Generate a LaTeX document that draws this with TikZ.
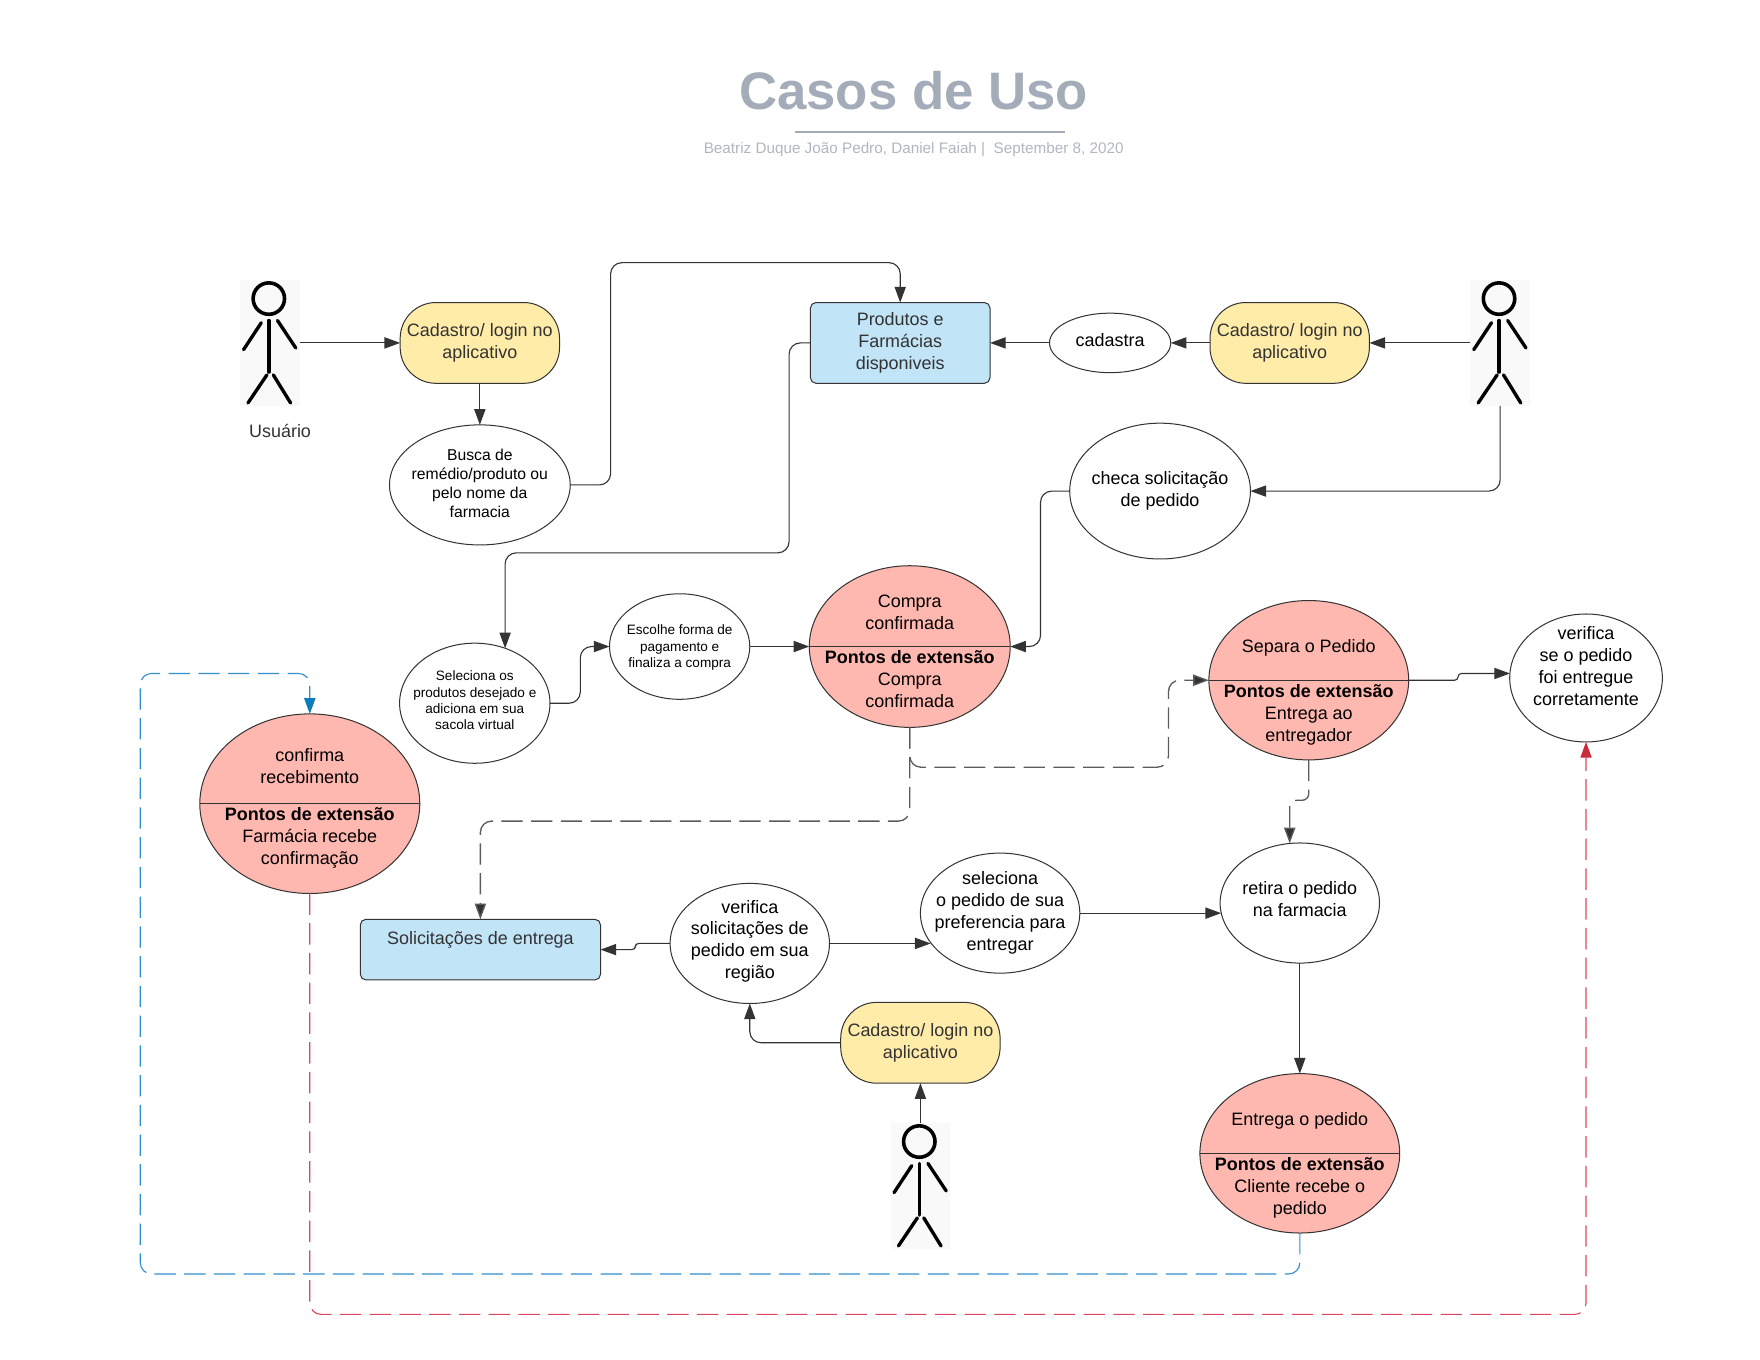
\documentclass[tikz,border=0pt]{standalone}
\usepackage{fontspec}
\setmainfont{Liberation Sans}
\usetikzlibrary{arrows.meta,shapes.geometric}
\definecolor{linegray}{HTML}{333333}
\definecolor{dashgray}{HTML}{5C5C5C}
\definecolor{titlegray}{HTML}{A3ACB8}
\definecolor{subgray}{HTML}{B0B6C0}
\definecolor{caseyellow}{HTML}{FFECA9}
\definecolor{caseblue}{HTML}{C1E4F7}
\definecolor{casepink}{HTML}{FFB8B0}
\definecolor{actorbg}{HTML}{F9F9F9}
\definecolor{blueline}{HTML}{2F8FD0}
\definecolor{bluehead}{HTML}{0C7CBA}
\definecolor{redline}{HTML}{D9485C}
\definecolor{redhead}{HTML}{C92D39}
\tikzset{
  casesize/.style 2 args={minimum width=#1*0.5pt, minimum height=#2*0.5pt},
  usecase/.style={ellipse, draw=linegray, line width=0.45pt, fill=white, inner sep=0pt, outer sep=0pt},
  extcase/.style={usecase, fill=casepink},
  login/.style={rectangle, draw=linegray, line width=0.45pt, fill=caseyellow, rounded corners=16pt, inner sep=0pt, outer sep=0pt,
    casesize={142}{72}, align=center, text=linegray, font=\fontsize{8}{9.75}\selectfont},
  database/.style={rectangle, draw=linegray, line width=0.45pt, fill=caseblue, rounded corners=2.5pt, inner sep=0pt, outer sep=0pt,
    align=center, text=linegray, font=\fontsize{8}{9.75}\selectfont},
  actorbox/.style={rectangle, fill=actorbg, inner sep=0pt, outer sep=0pt, casesize={53}{112}},
  txt/.style={align=center, inner sep=0pt, font=\fontsize{8}{9.75}\selectfont},
  txtmid/.style={txt, font=\fontsize{7}{8.5}\selectfont},
  txtsmall/.style={txt, font=\fontsize{6.05}{7.25}\selectfont},
  txtbold/.style={txt, font=\fontsize{8}{9.75}\selectfont\bfseries},
  flow/.style={draw=linegray, line width=0.5pt, rounded corners=5pt, -{Triangle[length=7pt,width=5pt,fill=linegray]}},
  flowdash/.style={flow, draw=dashgray, line width=0.6pt, dash pattern=on 9.5pt off 3.75pt},
  flowblue/.style={flow, draw=blueline, dash pattern=on 9.5pt off 3.75pt, -{Triangle[length=7pt,width=5pt,fill=bluehead,color=bluehead]}},
  flowred/.style={flow, draw=redline, dash pattern=on 9.5pt off 3.75pt, -{Triangle[length=7pt,width=5pt,fill=redhead,color=redhead]}},
  stickman/.pic={
    \draw[line width=1.6pt] (-1,-39.5) circle (14);
    \draw[line width=1.5pt, line cap=round] (-1,-20) -- (-1,26);
    \draw[line width=1.5pt, line cap=round] (-7.7,-18) -- (-23.5,6);
    \draw[line width=1.5pt, line cap=round] (6.7,-20) -- (23,4.5);
    \draw[line width=1.5pt, line cap=round] (-2.7,28.5) -- (-19.6,53.5);
    \draw[line width=1.5pt, line cap=round] (3,28.5) -- (18.4,53.5);
  }
}
\begin{document}
\begin{tikzpicture}[x=0.5pt,y=-0.5pt]
\useasboundingbox (0,0) rectangle (1568,1211.6);
% title
\node[font=\fontsize{23.5}{28}\selectfont\bfseries, text=titlegray, inner sep=0pt] (title) at (814,81) {Casos de Uso};
\draw[titlegray, line width=0.9pt] (708,118) -- (949,118);
\node[font=\fontsize{6.8}{8}\selectfont, text=subgray, inner sep=0pt] (subtitle) at (814,133) {Beatriz Duque João Pedro, Daniel Faiah |\ \ September 8, 2020};
% actors
\node[actorbox] (usuario) at (240.5,305.5) {};
\pic at (usuario) {stickman};
\node[txt, text=linegray] (usuariotxt) at (249.5,384) {Usuário};
\node[actorbox] (farmacia) at (1336.5,305.5) {};
\pic at (farmacia) {stickman};
\node[actorbox] (entregador) at (820,1056.5) {};
\pic at (entregador) {stickman};
% login boxes
\node[login] (loginusuario) at (427.5,305.5) {Cadastro/ login no\\aplicativo};
\node[login] (loginfarmacia) at (1149,305.5) {Cadastro/ login no\\aplicativo};
\node[login] (loginentregador) at (820,929) {Cadastro/ login no\\aplicativo};
% blue boxes
\node[database, casesize={160}{72}] (produtos) at (802,305.5) {Produtos e\\Farmácias\\disponiveis};
\node[database, casesize={214}{54}] (solicitacoes) at (428,846) {Solicitações de entrega\\[1pt]\mbox{}};
% plain use cases
\node[usecase, casesize={161}{107}] (busca) at (427.5,432) {};
\node[txtmid] (buscatxt) at (427.5,430.5) {Busca de\\remédio/produto ou\\pelo nome da\\farmacia};
\node[usecase, casesize={108}{53}] (cadastra) at (989,305.5) {};
\node[txt] (cadastratxt) at (989,303) {cadastra};
\node[usecase, casesize={161}{121}] (checa) at (1033.5,437.5) {};
\node[txt] (checatxt) at (1033.5,437.5) {checa solicitação\\de pedido};
\node[usecase, casesize={134}{107}] (seleciona) at (423,626.5) {};
\node[txtsmall] (selecionatxt) at (423,624) {Seleciona os\\produtos desejado e\\adiciona em sua\\sacola virtual};
\node[usecase, casesize={125}{94}] (escolhe) at (605.5,576) {};
\node[txtsmall] (escolhetxt) at (605.5,577) {Escolhe forma de\\pagamento e\\finaliza a compra};
\node[usecase, casesize={136}{114}] (verifica) at (1413,604) {};
\node[txt] (verificatxt) at (1413,593.5) {verifica\\se o pedido\\foi entregue\\corretamente};
\node[usecase, casesize={142}{107}] (retira) at (1158,804.5) {};
\node[txt] (retiratxt) at (1158,801) {retira o pedido\\na farmacia};
\node[usecase, casesize={142}{107}] (preferencia) at (891,813.5) {};
\node[txt] (preferenciatxt) at (891,813) {seleciona\\o pedido de sua\\preferencia para\\entregar};
\node[usecase, casesize={142}{107}] (regiao) at (668,840.5) {};
\node[txt] (regiaotxt) at (668,838.5) {verifica\\solicitações de\\pedido em sua\\região};
% use cases with extension points
\node[extcase, casesize={179}{144}] (compra) at (810.5,576) {};
\draw[linegray, line width=0.45pt] (compra.west) -- (compra.east);
\node[txt] (compratxt) at (810.5,545.5) {Compra\\confirmada};
\node[txtbold] (compraext) at (810.5,585) {Pontos de extensão};
\node[txt] (compraexttxt) at (810.5,615) {Compra\\confirmada};
\node[extcase, casesize={178}{142}] (separa) at (1166,606) {};
\draw[linegray, line width=0.45pt] (separa.west) -- (separa.east);
\node[txt] (separatxt) at (1166,577) {Separa o Pedido};
\node[txtbold] (separaext) at (1166,616) {Pontos de extensão};
\node[txt] (separaexttxt) at (1166,647) {Entrega ao\\entregador};
\node[extcase, casesize={196}{160}] (confirma) at (276,716) {};
\draw[linegray, line width=0.45pt] (confirma.west) -- (confirma.east);
\node[txt] (confirmatxt) at (276,682.5) {confirma\\recebimento};
\node[txtbold] (confirmaext) at (276,725) {Pontos de extensão};
\node[txt] (confirmaexttxt) at (276,756.5) {Farmácia recebe\\confirmação};
\node[extcase, casesize={178}{142}] (entrega) at (1158,1027.5) {};
\draw[linegray, line width=0.45pt] (entrega.west) -- (entrega.east);
\node[txt] (entregatxt) at (1158,999) {Entrega o pedido};
\node[txtbold] (entregaext) at (1158,1037) {Pontos de extensão};
\node[txt] (entregaexttxt) at (1158,1068) {Cliente recebe o\\pedido};
% bends
\coordinate (buscabend) at (544,234);
\coordinate (produtosbend) at (703,400);
\coordinate (selecionabend) at (450,492.5);
\coordinate (escolhebend) at (517,600);
\coordinate (checabend) at (927,500);
\coordinate (comprabend) at (1041,683.5);
\coordinate (solicbend) at (428,731.5);
\coordinate (separabend) at (1299,600);
\coordinate (retirabend) at (1149,713);
\coordinate (regiaobend) at (566,846);
\coordinate (bluecorner) at (125,1135);
\coordinate (bluetop) at (276,600);
\coordinate (redbottom) at (800,1171);
% connectors
\draw[flow] (usuario.east) -- (loginusuario.west);
\draw[flow] (loginusuario.south) -- (busca.north);
\draw[flow] (busca.east) -| (buscabend) -| (produtos.north);
\draw[flow] (farmacia.west) -- (loginfarmacia.east);
\draw[flow] (loginfarmacia.west) -- (cadastra.east);
\draw[flow] (cadastra.west) -- (produtos.east);
\draw[flow] (farmacia.south) |- (checa.east);
\draw[flow] (checa.west) -| (checabend) |- (compra.east);
\draw[flow] (produtos.west) -| (produtosbend) |- (selecionabend) -- (selecionabend |- seleciona.61);
\draw[flow] (seleciona.east) -| (escolhebend) |- (escolhe.west);
\draw[flow] (escolhe.east) -- (compra.west);
\draw[flowdash] (compra.south) |- (comprabend) |- (separa.west);
\draw[flowdash] (compra.south) |- (solicbend) -- (solicitacoes.north);
\draw[flow, rounded corners=1.5pt] (separa.east) -| (separabend) -- (separabend -| verifica.176);
\draw[flowdash, rounded corners=3pt] (separa.south) |- (retirabend) -- (retirabend |- retira.99);
\draw[flow, rounded corners=1.5pt] (regiao.west) -| (regiaobend) -- (solicitacoes.east);
\draw[flow] (regiao.east) -- (regiao.east -| preferencia.203);
\draw[flow] (preferencia.east) -- (preferencia.east -| retira.187);
\draw[flow] (retira.south) -- (entrega.north);
\draw[flow] (loginentregador.west) -| (regiao.south);
\draw[flow] (entregador.north) -- (loginentregador.south);
\draw[flowblue] (entrega.south) |- (bluecorner) |- (bluetop) -- (confirma.north);
\draw[flowred] (confirma.south) |- (redbottom) -| (verifica.south);
\end{tikzpicture}
\end{document}
